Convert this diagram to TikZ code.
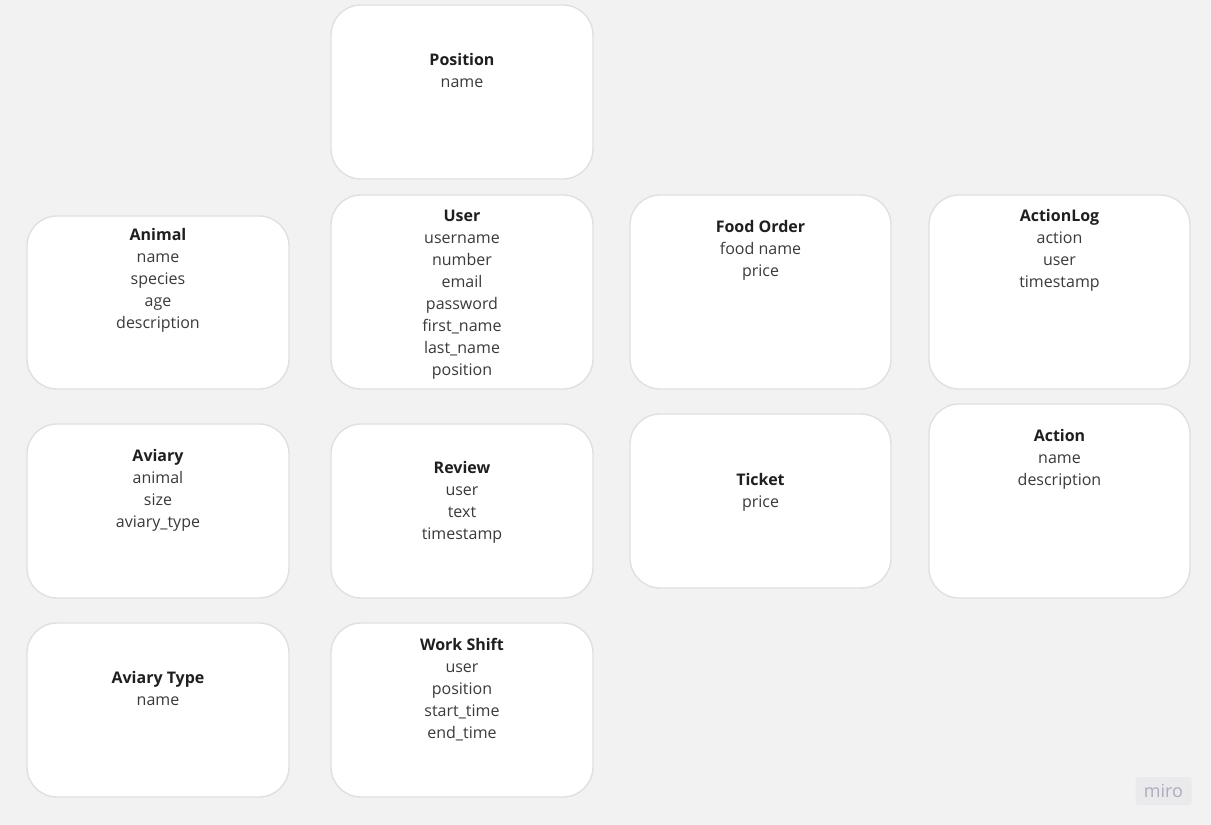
\documentclass[tikz,border=0pt]{standalone}
\usepackage{fontspec}
\setmainfont{Open Sans}
\definecolor{bg}{HTML}{F2F2F2}
\definecolor{edge}{HTML}{E0E0E0}
\definecolor{ttl}{HTML}{1F1F1F}
\definecolor{attr}{HTML}{3A3A3A}
\definecolor{logobg}{HTML}{EAEAEC}
\definecolor{logofg}{HTML}{ADADBE}
\tikzset{
  entity/.style={draw=edge, line width=1.4pt, fill=white, rounded corners=30pt, inner sep=0pt},
  fields/.style={anchor=north, inner sep=0pt, align=center, text=attr, font=\fontsize{16}{22}\selectfont},
}
% #1 name, #2 cx, #3 cy, #4 w, #5 h, #6 title y, #7 title, #8 other lines
\newcommand{\entbox}[8]{%
  \node[entity, minimum width=#4pt, minimum height=#5pt] (#1) at (#2,#3) {};
  \node[fields] (#1-t) at (#2,#6-8.6) {\rule{0pt}{15pt}{\bfseries\color{ttl}#7}#8};
}
\begin{document}
\begin{tikzpicture}[x=1pt,y=-1pt]
\fill[bg] (0,0) rectangle (1211,825);
\useasboundingbox (0,0) rectangle (1211,825);
\entbox{position}{462}{92}{262}{174}{59}{Position}{\\name}
\entbox{user}{462}{292}{262}{194}{215}{User}{\\username\\number\\email\\password\\first\_name\\last\_name\\position}
\entbox{animal}{158}{302.5}{262}{173}{234}{Animal}{\\name\\species\\age\\description}
\entbox{food}{760.5}{292}{261}{194}{226}{Food Order}{\\food name\\price}
\entbox{actionlog}{1059.5}{292}{261}{194}{215}{ActionLog}{\\action\\user\\timestamp}
\entbox{aviary}{158}{511}{262}{174}{455}{Aviary}{\\animal\\size\\aviary\_type}
\entbox{review}{462}{511}{262}{174}{467}{Review}{\\user\\text\\timestamp}
\entbox{ticket}{760.5}{501}{261}{174}{479}{Ticket}{\\price}
\entbox{action}{1059.5}{501}{261}{194}{435}{Action}{\\name\\description}
\entbox{aviarytype}{158}{710}{262}{174}{677}{Aviary Type}{\\name}
\entbox{workshift}{462}{710}{262}{174}{644}{Work Shift}{\\user\\position\\start\_time\\end\_time}
\node[fill=logobg, rounded corners=3pt, minimum width=56pt, minimum height=28pt, inner sep=0pt,
      text=logofg, font=\fontsize{18}{18}\selectfont] (logo) at (1163.5,791) {miro};
\end{tikzpicture}
\end{document}
